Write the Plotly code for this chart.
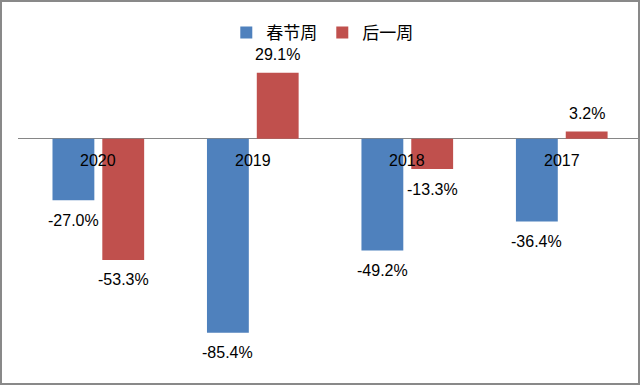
import plotly.graph_objects as go

categories = ["2020", "2019", "2018", "2017"]
spring_week = [-27.0, -85.4, -49.2, -36.4]
after_week = [-53.3, 29.1, -13.3, 3.2]
series_names = ["春节周", "后一周"]
colors = ["#4F81BD", "#C0504D"]

FONT = "Liberation Sans, Noto Sans CJK SC, sans-serif"
xpos = list(range(len(categories)))

fig = go.Figure()
for name, vals, col in zip(series_names, [spring_week, after_week], colors):
    fig.add_trace(go.Bar(x=xpos, y=vals, name=name, marker_color=col,
                         marker_line_width=0))

annotations = []
for vals, shift in [(spring_week, -25), (after_week, 25)]:
    for xi, v in zip(xpos, vals):
        annotations.append(dict(
            x=xi, y=v, xref="x", yref="y", text=f"{v:.1f}%", showarrow=False,
            xshift=shift, yshift=(-20 if v < 0 else 18),
            font=dict(family=FONT, size=16, color="#000000")))
for xi, c in zip(xpos, categories):
    annotations.append(dict(
        x=xi, y=0, xref="x", yref="y", text=c, showarrow=False, yshift=-22,
        font=dict(family=FONT, size=16, color="#000000")))

W, H = 640, 385
l, r, t, b = 18, 1, 48, 19
pw, ph = W - l - r, H - t - b

fig.update_layout(
    width=W, height=H,
    margin=dict(l=l, r=r, t=t, b=b, autoexpand=False),
    paper_bgcolor="white", plot_bgcolor="white",
    barmode="group", bargap=0.355, bargroupgap=0.16,
    showlegend=True,
    legend=dict(orientation="h", x=0.49, xanchor="center", y=1 + 15 / ph,
                yanchor="middle", font=dict(family="Noto Sans CJK SC, sans-serif", size=17, color="#000000"),
                traceorder="normal"),
    xaxis=dict(range=[-0.52, len(categories) - 0.5], showline=False, showgrid=False,
               zeroline=False, ticks="", showticklabels=False),
    yaxis=dict(range=[-100, 40], showgrid=False, showticklabels=False,
               zeroline=True, zerolinecolor="#868686", zerolinewidth=1,
               showline=False, ticks=""),
    annotations=annotations,
    shapes=[dict(type="rect", xref="paper", yref="paper",
                 x0=(1 - l) / pw, x1=(W - 1 - l) / pw,
                 y0=-(H - 1 - (H - b)) / ph, y1=(H - b - 1) / ph,
                 line=dict(color="#898989", width=2), layer="above")],
    font=dict(family=FONT),
)

fig.write_html("out.html", config={"displayModeBar": False},
               post_script="document.body.style.margin='0';")
